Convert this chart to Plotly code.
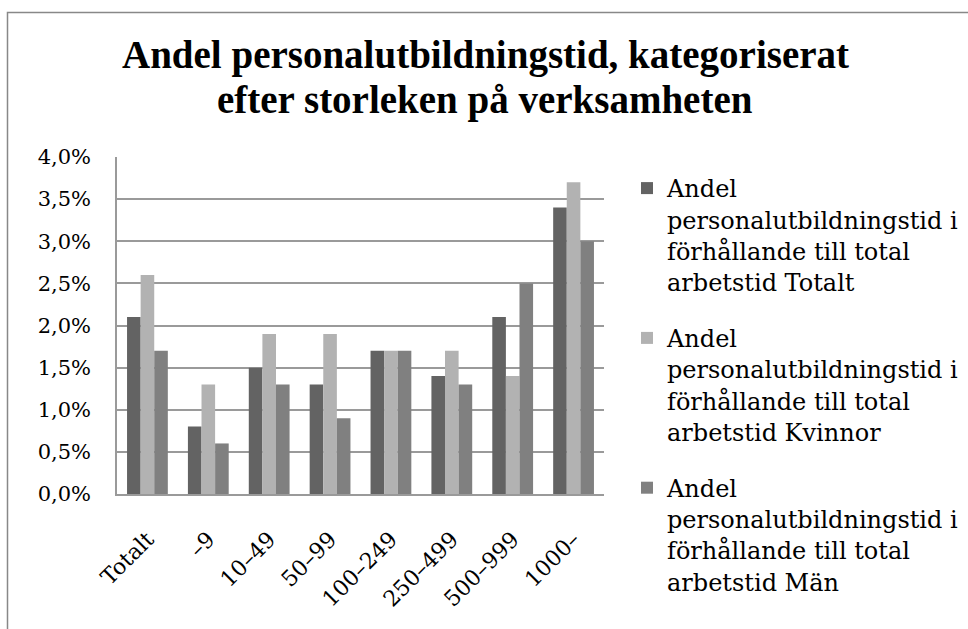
import plotly.graph_objects as go

categories = ["Totalt", "–9", "10–49", "50–99", "100–249", "250–499", "500–999", "1000–"]
series_names = [
    "Andel<br>personalutbildningstid i<br>förhållande till total<br>arbetstid Totalt",
    "Andel<br>personalutbildningstid i<br>förhållande till total<br>arbetstid Kvinnor",
    "Andel<br>personalutbildningstid i<br>förhållande till total<br>arbetstid Män",
]
title_lines = ["Andel personalutbildningstid, kategoriserat", "efter storleken på verksamheten"]
totalt = [0.021, 0.008, 0.015, 0.013, 0.017, 0.014, 0.021, 0.034]
kvinnor = [0.026, 0.013, 0.019, 0.019, 0.017, 0.017, 0.014, 0.037]
man = [0.017, 0.006, 0.013, 0.009, 0.017, 0.013, 0.025, 0.030]
colors = ["#636363", "#b2b2b2", "#808080"]

W, H = 968, 629
L, R, T, B = 117, 604, 157, 494
FONT = "DejaVu Serif"
TFONT = "Liberation Serif"

fig = go.Figure()
for i, (name, vals) in enumerate(zip(series_names, [totalt, kvinnor, man])):
    fig.add_trace(go.Bar(x=categories, y=vals, name=name, marker_color=colors[i],
                         marker_line_width=0, legendgroup=f"g{i}"))

pw, ph = R - L, B - T
fig.add_shape(type="rect", xref="paper", yref="paper",
              x0=(7.5 - L) / pw, x1=(W + 20 - L) / pw,
              y0=(B - (H + 20)) / ph, y1=(B - 12.5) / ph,
              line=dict(color="#888888", width=1.5), layer="below")

for line, ypix in zip(title_lines, [55, 100]):
    fig.add_annotation(text=f"<b>{line}</b>", xref="paper", yref="paper",
                       x=(W / 2 + 1 - L) / pw, y=(B - ypix) / ph,
                       xanchor="center", yanchor="middle", showarrow=False,
                       font=dict(family=TFONT, size=39, color="black"))

fig.update_layout(
    width=W, height=H,
    margin=dict(l=L, r=W - R, t=T, b=H - B, autoexpand=False),
    paper_bgcolor="white", plot_bgcolor="white",
    separators=", ",
    barmode="group", bargap=0.33, bargroupgap=0,
    font=dict(family=FONT, color="black", size=22),
    legend=dict(x=(627 - L) / pw, xanchor="left", yref="container", y=1 - 166 / H,
                yanchor="top", valign="top", tracegroupgap=22, maxheight=2000,
                font=dict(size=24, family=FONT),
                itemwidth=30, bgcolor="rgba(0,0,0,0)"),
    showlegend=True,
)
fig.update_yaxes(range=[0, 0.04], dtick=0.005, tickformat=".1%", showgrid=True,
                 gridcolor="#9a9a9a", gridwidth=1.5, showline=True, linecolor="#9a9a9a",
                 linewidth=1.5, ticks="", ticklabelstandoff=20, zeroline=False,
                 tickfont=dict(size=21, family=FONT))
fig.update_xaxes(showline=True, linecolor="#9a9a9a", linewidth=1.5, tickangle=-45,
                 ticks="", ticklabelstandoff=22, tickfont=dict(size=22, family=FONT))

fig.write_html("out.html", config={"displayModeBar": False},
               post_script="document.body.style.margin='0';")
